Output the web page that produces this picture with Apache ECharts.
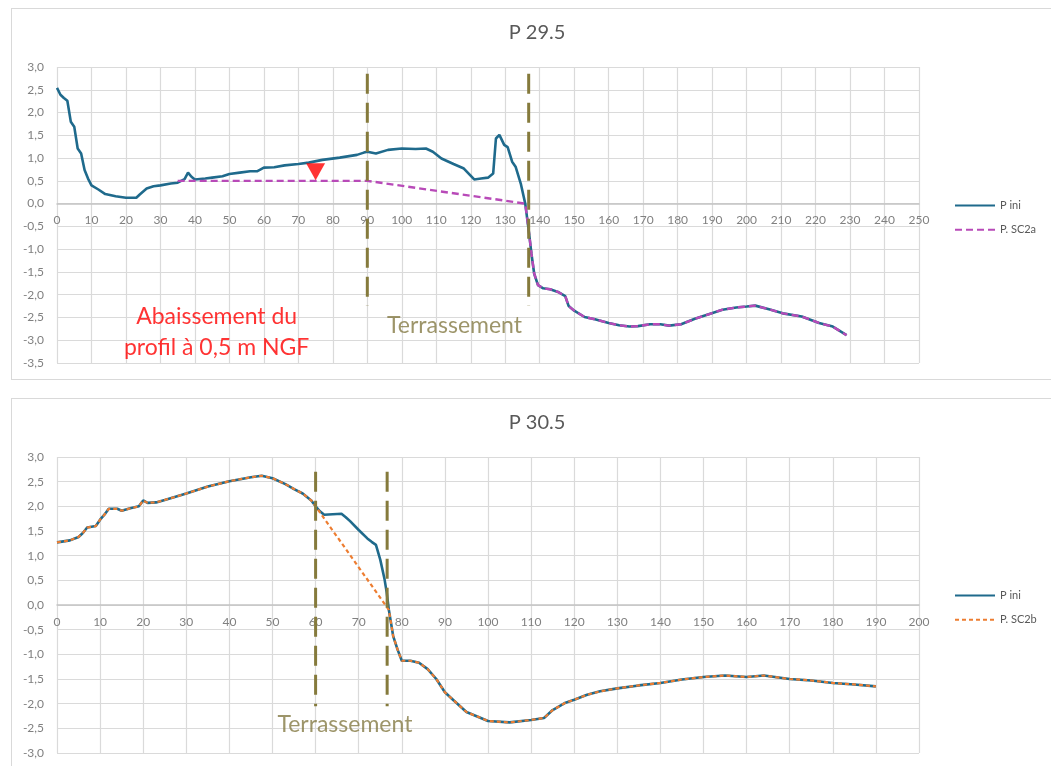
<!DOCTYPE html>
<html>
<head>
<meta charset="utf-8">
<script src="https://cdn.jsdelivr.net/npm/echarts@6/dist/echarts.min.js"></script>
<style>
  html, body { margin: 0; padding: 0; background: #fff; overflow: hidden; }
  .frame {
    position: absolute;
    left: 11px;
    width: 1050px;
    height: 370px;
    border: 1px solid #d9d9d9;
    background: #fff;
  }
  #chart-29 { top: 8px; }
  #chart-30 { top: 398px; height: 380px; }
</style>
</head>
<body>
<div id="chart-29" class="frame"></div>
<div id="chart-30" class="frame"></div>
<script>
  // profil P 29.5 : [distance, cote]
  const pIni29 = [
    [0, 2.54], [1, 2.39], [2, 2.32], [3, 2.26], [4, 1.8], [5, 1.69], [6, 1.21], [7, 1.1],
    [8, 0.74], [9, 0.55], [10, 0.4], [12, 0.31], [14, 0.21], [17, 0.16], [20, 0.13], [23, 0.13],
    [24, 0.2], [26, 0.33], [28, 0.38], [30, 0.4], [33, 0.44], [35, 0.46], [37, 0.54], [38, 0.68],
    [39, 0.59], [40, 0.53], [43, 0.55], [45, 0.57], [48, 0.6], [50, 0.65], [53, 0.68], [56, 0.71],
    [58, 0.71], [60, 0.79], [63, 0.8], [66, 0.84], [70, 0.87], [73, 0.9], [77, 0.96], [82, 1.01],
    [87, 1.07], [89, 1.12], [90, 1.14], [92.5, 1.1], [96, 1.18], [100, 1.21], [104, 1.2], [107, 1.21],
    [109, 1.14], [111.5, 0.99], [115, 0.87], [118, 0.77], [121, 0.53], [123, 0.55], [125, 0.57],
    [126.5, 0.66], [127.3, 1.43], [128.3, 1.51], [129.7, 1.29], [130.7, 1.24], [132, 0.92], [133, 0.81],
    [134.5, 0.44], [135.8, 0], [136.8, -0.58], [137.6, -1.1], [138.4, -1.54], [139.5, -1.79],
    [141, -1.86], [143, -1.88], [145.3, -1.94], [147.4, -2.03], [148.4, -2.25], [150, -2.35],
    [153, -2.49], [156, -2.54], [160, -2.62], [163, -2.67], [166, -2.7], [168.5, -2.69], [172, -2.65],
    [175, -2.65], [177.5, -2.68], [181, -2.65], [185, -2.53], [189, -2.43], [193, -2.33], [197, -2.28],
    [200, -2.26], [202.5, -2.24], [206.5, -2.32], [210.5, -2.41], [216, -2.48], [221, -2.62],
    [225, -2.7], [229, -2.89]
  ];
  // projet SC2a : palier à 0,5 puis raccord au terrain
  const sc2aDesign = [[35, 0.5], [90, 0.5]];
  const sc2aJoin = 135.8;
  const cuts29 = [90, 136.8];
  const cutSpan29 = [2.85, -2.25];
  const marker29 = [[75, 0.7]];

  // profil P 30.5
  const pIni30 = [
    [0, 1.27], [3, 1.31], [5, 1.38], [6, 1.46], [7, 1.57], [9, 1.6], [10, 1.73], [11, 1.83],
    [12, 1.95], [14, 1.95], [15, 1.91], [17, 1.96], [19, 2.0], [20, 2.12], [21, 2.07], [23, 2.08],
    [25, 2.13], [30, 2.26], [35, 2.4], [40, 2.51], [45, 2.59], [47.5, 2.62], [50, 2.57], [53, 2.45],
    [55, 2.35], [57, 2.26], [59, 2.12], [60, 2.0], [61, 1.9], [62, 1.83], [64, 1.84], [66, 1.85],
    [67, 1.78], [68, 1.7], [70, 1.52], [72, 1.35], [73, 1.28], [74, 1.22], [75, 0.92], [76, 0.52],
    [76.5, 0.25], [77, -0.1], [78, -0.63], [79, -0.9], [80, -1.13], [82, -1.13], [84, -1.17],
    [86, -1.3], [88, -1.5], [90, -1.77], [92, -1.93], [95, -2.17], [100, -2.35], [105, -2.38],
    [110, -2.33], [113, -2.29], [115, -2.13], [118, -1.98], [120, -1.92], [123, -1.82], [126, -1.75],
    [130, -1.69], [135, -1.63], [140, -1.58], [145, -1.51], [150, -1.46], [155, -1.43], [160, -1.46],
    [164, -1.43], [170, -1.5], [175, -1.53], [180, -1.58], [185, -1.61], [190, -1.65]
  ];
  const sc2bCut = [60, 77];
  const cuts30 = [60, 76.6];
  const cutSpan30 = [2.7, -2.05];

  const notes29 = [
    { value: [115.3, -2.67], name: 'Terrassement', color: '#857b45' },
    { value: [46.3, -2.83], name: 'Abaissement du\nprofil à 0,5 m NGF', color: '#ff0000' }
  ];
  const notes30 = [
    { value: [66.8, -2.43], name: 'Terrassement', color: '#857b45' }
  ];

  const FONT = 'Lato, "Open Sans", sans-serif';
  const BLUE = '#1f6a8c';
  const OLIVE = '#857a3c';
  const GRID_H = 296;

  function cutLines(xs, span) {
    return xs.map(x => ({
      type: 'line',
      data: [[x, span[0]], [x, span[1]]],
      symbol: 'none',
      silent: true,
      z: 5,
      lineStyle: { color: OLIVE, width: 3, type: [20, 9] }
    }));
  }

  function notesSeries(notes) {
    return {
      type: 'scatter',
      silent: true,
      symbolSize: 1,
      itemStyle: { color: 'transparent' },
      z: 6,
      data: notes.map(n => ({
        name: n.name,
        value: n.value,
        label: {
          show: true,
          position: 'inside',
          formatter: '{b}',
          color: n.color,
          fontFamily: FONT,
          fontSize: 23,
          lineHeight: 31
        }
      }))
    };
  }

  function profileLine(name, data, color, width, dash, z) {
    return {
      name: name,
      type: 'line',
      data: data,
      symbol: 'none',
      smooth: false,
      lineStyle: { color: color, width: width, type: dash },
      itemStyle: { color: color },
      z: z
    };
  }

  function baseOption(title, xMax, yMin, names) {
    // Excel place l'axe des abscisses (et ses étiquettes) sur la cote 0
    const zeroOffset = -GRID_H * (0 - yMin) / (3 - yMin);
    return {
      animation: false,
      title: {
        text: title,
        left: 'center',
        top: 14,
        padding: 0,
        textStyle: { fontFamily: FONT, fontSize: 20, fontWeight: 'normal', color: '#595959' }
      },
      legend: {
        data: names,
        orient: 'vertical',
        left: 937,
        top: 186,
        itemWidth: 40,
        itemHeight: 14,
        itemGap: 13,
        itemStyle: { color: 'transparent', borderWidth: 0, opacity: 0 },
        textStyle: { fontFamily: FONT, fontSize: 11, color: '#595959' }
      },
      grid: { left: 45, top: 58, width: 862, height: GRID_H },
      xAxis: {
        type: 'value',
        min: 0,
        max: xMax,
        interval: 10,
        offset: zeroOffset,
        axisLine: { onZero: false, lineStyle: { color: '#c4c4c4', width: 1.5 } },
        axisTick: { show: false },
        axisLabel: { color: '#808080', fontFamily: FONT, fontSize: 12, margin: 11 },
        splitLine: { lineStyle: { color: '#dadada', width: 1.2 } }
      },
      yAxis: {
        type: 'value',
        min: yMin,
        max: 3,
        interval: 0.5,
        axisLine: { show: false },
        axisTick: { show: false },
        axisLabel: {
          color: '#808080',
          fontFamily: FONT,
          fontSize: 12,
          margin: 13,
          formatter: v => v.toFixed(1).replace('.', ',')
        },
        splitLine: { lineStyle: { color: '#dadada', width: 1.2 } }
      }
    };
  }

  // P 29.5
  const sc2a = sc2aDesign.concat(pIni29.filter(p => p[0] >= sc2aJoin));
  const chart29 = echarts.init(document.getElementById('chart-29'));
  const opt29 = baseOption('P 29.5', 250, -3.5, ['P ini', 'P. SC2a']);
  opt29.series = [
    profileLine('P ini', pIni29, BLUE, 2.6, 'solid', 3),
    profileLine('P. SC2a', sc2a, '#b84ab8', 2.4, [7, 4], 4),
    ...cutLines(cuts29, cutSpan29),
    {
      type: 'scatter', data: marker29, silent: true, symbol: 'triangle', symbolRotate: 180,
      symbolSize: [19, 17], itemStyle: { color: '#ff0000' }, z: 7
    },
    notesSeries(notes29)
  ];
  chart29.setOption(opt29);

  // P 30.5
  const sc2b = pIni30.filter(p => p[0] <= sc2bCut[0] || p[0] >= sc2bCut[1]);
  const chart30 = echarts.init(document.getElementById('chart-30'));
  const opt30 = baseOption('P 30.5', 200, -3, ['P ini', 'P. SC2b']);
  opt30.series = [
    profileLine('P ini', pIni30, BLUE, 2.6, 'solid', 3),
    profileLine('P. SC2b', sc2b, '#ed7d31', 2.2, [4, 3], 4),
    ...cutLines(cuts30, cutSpan30),
    notesSeries(notes30)
  ];
  chart30.setOption(opt30);
</script>
</body>
</html>
